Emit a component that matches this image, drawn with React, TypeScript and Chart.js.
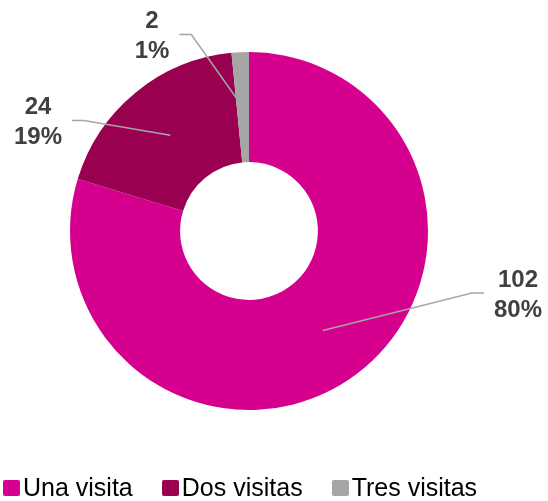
import React, { useEffect, useRef } from "react";
import { Chart, registerables } from "chart.js";

Chart.register(...registerables);

const categories = ["Una visita", "Dos visitas", "Tres visitas"];
const values = [102, 24, 2];
const percentLabels = ["80%", "19%", "1%"];
const colors = ["#D6008F", "#990050", "#A6A6A6"];

const FONT = '"Liberation Sans", Arial, sans-serif';

const leaderLabelPlugin = {
  id: "leaderLabels",
  afterDatasetsDraw(chart: any, _args: any, opts: any) {
    const ctx = chart.ctx;
    const meta = chart.getDatasetMeta(0);
    const offsets: number[][] = opts.offsets;
    ctx.save();
    ctx.font = `bold 24px ${FONT}`;
    ctx.textAlign = "center";
    ctx.textBaseline = "middle";
    meta.data.forEach((arc: any, i: number) => {
      const p = arc.getCenterPoint();
      const lx = arc.x + offsets[i][0];
      const ly = arc.y + offsets[i][1];
      const l1 = String(values[i]);
      const l2 = percentLabels[i];
      const w = Math.max(ctx.measureText(l1).width, ctx.measureText(l2).width);
      const side = offsets[i][0] > 0 ? 1 : -1;
      const edgeX = lx - side * (w / 2 + 10);
      const elbowX = edgeX - side * 12;
      const lineY = ly - 2;
      ctx.strokeStyle = "#A6A6A6";
      ctx.lineWidth = 1.5;
      ctx.beginPath();
      ctx.moveTo(edgeX, lineY);
      ctx.lineTo(elbowX, lineY);
      ctx.lineTo(p.x, p.y);
      ctx.stroke();
      ctx.fillStyle = "#404040";
      ctx.fillText(l1, lx, ly - 15);
      ctx.fillText(l2, lx, ly + 15);
    });
    ctx.restore();
  },
};

export default function App() {
  const ref = useRef<HTMLCanvasElement>(null);
  useEffect(() => {
    if (!ref.current) return;
    const chart = new Chart(ref.current, {
      type: "doughnut",
      data: {
        labels: categories,
        datasets: [
          {
            data: values,
            backgroundColor: colors,
            borderWidth: 0,
          },
        ],
      },
      options: {
        responsive: false,
        animation: false,
        cutout: "38.5%",
        layout: { padding: { top: 52, bottom: 91, left: 70, right: 120 } },
        plugins: {
          legend: { display: false },
          tooltip: { enabled: false },
          leaderLabels: {
            offsets: [
              [269, 64],
              [-211, -108.5],
              [-97, -194.5],
            ],
          },
        } as any,
      },
      plugins: [leaderLabelPlugin],
    });
    return () => chart.destroy();
  }, []);

  return (
    <div
      style={{
        position: "fixed",
        left: 0,
        top: 0,
        width: 548,
        height: 501,
        background: "#fff",
        overflow: "hidden",
      }}
    >
      <canvas ref={ref} width={548} height={501} style={{ position: "absolute", left: 0, top: 0 }} />
      <div
        style={{
          position: "absolute",
          left: 3,
          top: 473,
          height: 29,
          display: "flex",
          alignItems: "center",
          gap: 29,
          fontFamily: FONT,
          fontSize: 25,
          color: "#000",
          whiteSpace: "nowrap",
        }}
      >
        {categories.map((c, i) => (
          <div key={c} style={{ display: "flex", alignItems: "center" }}>
            <span
              style={{
                display: "inline-block",
                width: 17,
                height: 16,
                background: colors[i],
                borderRadius: 2,
                marginRight: 3,
              }}
            />
            <span>{c}</span>
          </div>
        ))}
      </div>
    </div>
  );
}
